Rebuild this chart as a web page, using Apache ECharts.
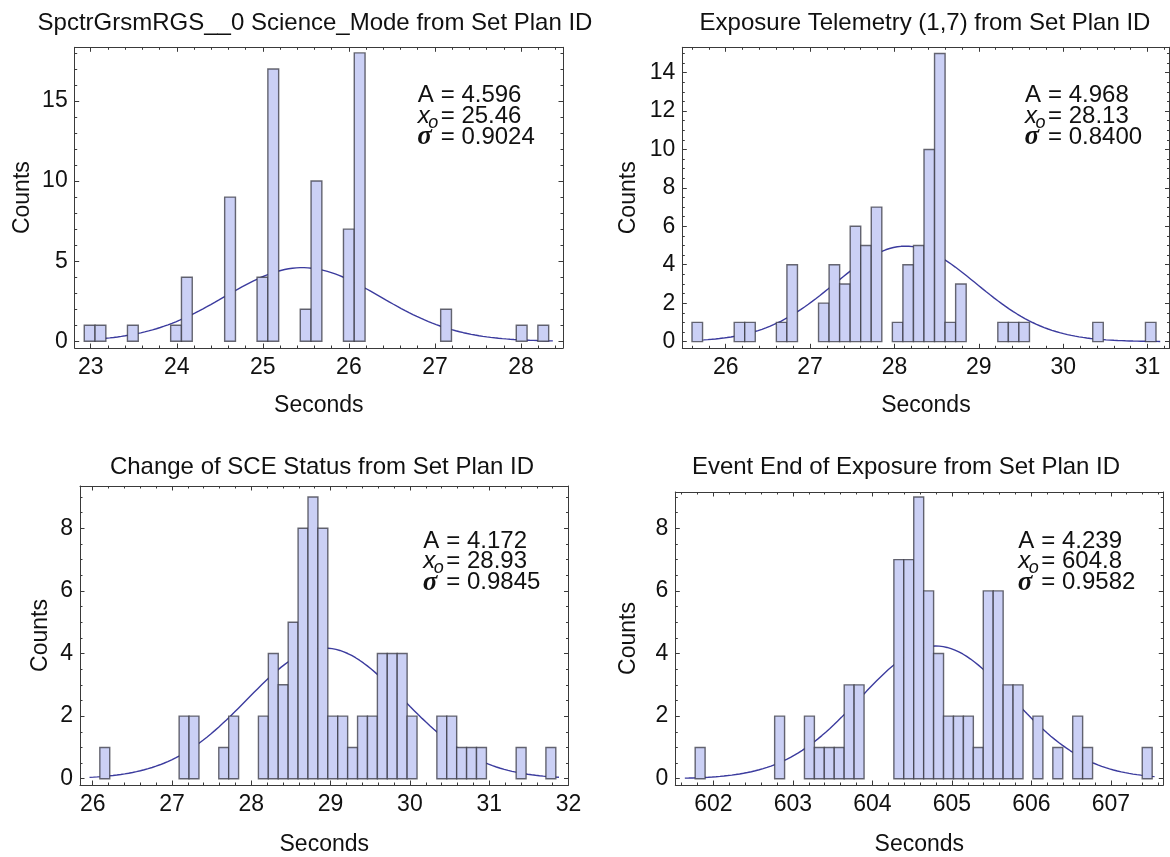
<!DOCTYPE html>
<html>
<head>
<meta charset="utf-8">
<script src="https://cdn.jsdelivr.net/npm/echarts@6/dist/echarts.min.js"></script>
<style>
  html, body { margin: 0; padding: 0; background: #fff; }
  #chart { width: 1170px; height: 857px; }
</style>
</head>
<body>
<div id="chart"></div>
<script>
// ---------- data ----------
const titles = [
  'SpctrGrsmRGS__0 Science_Mode from Set Plan ID',
  'Exposure Telemetry (1,7) from Set Plan ID',
  'Change of SCE Status from Set Plan ID',
  'Event End of Exposure from Set Plan ID'
];

// counts per histogram bin, bins start at binStart and are binWidth seconds wide
const counts1 = [1,1,0,0,1,0,0,0,1,4, 0,0,0,9,0,0,4,17,0,0, 2,10,0,0,7,18,0,0,0,0, 0,0,0,2,0,0,0,0,0,0, 1,0,1];
const counts2 = [1,0,0,0,1,1,0,0,1,4, 0,0,2,4,3,6,5,7,0,1, 4,5,10,15,1,3,0,0,0,1, 1,1,0,0,0,0,0,0,1,0, 0,0,0,1];
const counts3 = [1,0,0,0,0,0,0,0,2,2, 0,0,1,2,0,0,2,4,3,5, 8,9,8,2,2,1,2,2,4,4, 4,2,0,0,2,2,1,1,1,0, 0,0,1,0,0,1];
const counts4 = [1,0,0,0,0,0,0,0,2,0, 0,2,1,1,1,3,3,0,0,0, 7,7,9,6,4,2,2,2,1,6, 6,3,3,0,2,0,1,0,2,1, 0,0,0,0,0,1];
const binStart = [22.925, 25.6, 26.09, 601.77];
const binWidth = [0.1255, 0.125, 0.125, 0.125];

// Gaussian fit parameters and their printed forms
const fitA = [4.596, 4.968, 4.172, 4.239];
const fitX0 = [25.46, 28.13, 28.93, 604.8];
const fitSigma = [0.9024, 0.8400, 0.9845, 0.9582];
const fitAText = ['4.596', '4.968', '4.172', '4.239'];
const fitX0Text = ['25.46', '28.13', '28.93', '604.8'];
const fitSigmaText = ['0.9024', '0.8400', '0.9845', '0.9582'];
const fitRange = [[22.95, 28.37], [25.65, 31.15], [25.96, 31.88], [601.64, 607.55]];

// tick labels
const xTicks1 = [23, 24, 25, 26, 27, 28];
const xTicks2 = [26, 27, 28, 29, 30, 31];
const xTicks3 = [26, 27, 28, 29, 30, 31, 32];
const xTicks4 = [602, 603, 604, 605, 606, 607];
const yTicks1 = [0, 5, 10, 15];
const yTicks2 = [0, 2, 4, 6, 8, 10, 12, 14];
const yTicks3 = [0, 2, 4, 6, 8];
const yTicks4 = [0, 2, 4, 6, 8];

const xLabel = 'Seconds';
const yLabel = 'Counts';

// ---------- layout ----------
const countsAll = [counts1, counts2, counts3, counts4];
const xTicksAll = [xTicks1, xTicks2, xTicks3, xTicks4];
const yTicksAll = [yTicks1, yTicks2, yTicks3, yTicks4];

const panels = [
  { left: 74.7, top: 47.3, width: 488.3, height: 300.7, xMin: 22.814, xMax: 28.488, yMin: -0.42, yMax: 18.35,
    xMinor: 0.2, yMinor: 1, titleX: 315, titleY: 23, noteX: 417.7, noteY: 95.7, nameGapX: 46, nameGapY: 41 },
  { left: 682.3, top: 47.3, width: 487.2, height: 301, xMin: 25.485, xMax: 31.26, yMin: -0.35, yMax: 15.32,
    xMinor: 0.2, yMinor: 0.5, titleX: 925, titleY: 23, noteX: 1025, noteY: 95.7, nameGapX: 46, nameGapY: 42 },
  { left: 80, top: 486, width: 488.5, height: 306.3, xMin: 25.84, xMax: 32.0, yMin: -0.2, yMax: 9.35,
    xMinor: 0.2, yMinor: 0.5, titleX: 322, titleY: 467, noteX: 423.3, noteY: 541, nameGapX: 48, nameGapY: 28 },
  { left: 675.3, top: 492, width: 488, height: 300.3, xMin: 601.52, xMax: 607.66, yMin: -0.2, yMax: 9.16,
    xMinor: 0.2, yMinor: 0.5, titleX: 906, titleY: 467, noteX: 1018.3, noteY: 541, nameGapX: 48, nameGapY: 35 }
];

const FONT = "'Liberation Sans', Arial, Helvetica, sans-serif";
const TEXT_COLOR = '#111';
const FRAME_COLOR = '#3a3a3a';
const BAR_FILL = '#cbd0f5';
const BAR_EDGE = 'rgba(55,55,65,0.75)';
const CURVE_COLOR = '#3b3b9e';

function stepValues(min, max, step) {
  const out = [];
  for (let k = Math.ceil(min / step - 1e-9); k * step <= max + 1e-9; k++) {
    out.push(+(k * step).toFixed(6));
  }
  return out;
}

const grid = [], xAxis = [], yAxis = [], series = [], graphic = [];

panels.forEach((p, i) => {
  grid.push({ left: p.left, top: p.top, width: p.width, height: p.height, containLabel: false });
  const majX = xTicksAll[i];
  const minX = stepValues(p.xMin, p.xMax, p.xMinor);
  const majY = yTicksAll[i];
  const minY = stepValues(p.yMin, p.yMax, p.yMinor).filter(v => v >= 0);

  const baseX = { type: 'value', gridIndex: i, min: p.xMin, max: p.xMax, splitLine: { show: false } };
  const baseY = { type: 'value', gridIndex: i, min: p.yMin, max: p.yMax, splitLine: { show: false } };
  const line = { show: true, onZero: false, lineStyle: { color: FRAME_COLOR, width: 1 } };
  const noLine = { show: false, onZero: false };
  const tick = (vals, len) => ({ show: true, inside: true, length: len, customValues: vals,
    lineStyle: { color: FRAME_COLOR, width: 1 } });
  const noLabel = { show: false };

  // bottom: frame, major ticks, labels, axis name
  xAxis.push(Object.assign({}, baseX, {
    position: 'bottom', axisLine: line, axisTick: tick(majX, 4.5),
    axisLabel: { show: true, customValues: majX, margin: 8, fontFamily: FONT, fontSize: 23, color: TEXT_COLOR },
    name: xLabel, nameLocation: 'middle', nameGap: p.nameGapX,
    nameTextStyle: { fontFamily: FONT, fontSize: 23, color: TEXT_COLOR }
  }));
  xAxis.push(Object.assign({}, baseX, { position: 'bottom', axisLine: noLine, axisTick: tick(minX, 2.5), axisLabel: noLabel }));
  xAxis.push(Object.assign({}, baseX, { position: 'top', axisLine: line, axisTick: tick(majX, 4.5), axisLabel: noLabel }));
  xAxis.push(Object.assign({}, baseX, { position: 'top', axisLine: noLine, axisTick: tick(minX, 2.5), axisLabel: noLabel }));

  yAxis.push(Object.assign({}, baseY, {
    position: 'left', axisLine: line, axisTick: tick(majY, 4.5),
    axisLabel: { show: true, customValues: majY, margin: 7, fontFamily: FONT, fontSize: 23, color: TEXT_COLOR },
    name: yLabel, nameLocation: 'middle', nameGap: p.nameGapY,
    nameTextStyle: { fontFamily: FONT, fontSize: 23, color: TEXT_COLOR }
  }));
  yAxis.push(Object.assign({}, baseY, { position: 'left', axisLine: noLine, axisTick: tick(minY, 2.5), axisLabel: noLabel }));
  yAxis.push(Object.assign({}, baseY, { position: 'right', axisLine: line, axisTick: tick(majY, 4.5), axisLabel: noLabel }));
  yAxis.push(Object.assign({}, baseY, { position: 'right', axisLine: noLine, axisTick: tick(minY, 2.5), axisLabel: noLabel }));

  // fitted Gaussian, drawn beneath the bars
  const A = fitA[i], x0 = fitX0[i], s = fitSigma[i];
  const [c0, c1] = fitRange[i];
  const curve = [];
  const n = 240;
  for (let k = 0; k <= n; k++) {
    const x = c0 + (c1 - c0) * k / n;
    curve.push([x, A * Math.exp(-((x - x0) * (x - x0)) / (2 * s * s))]);
  }
  series.push({
    type: 'line', xAxisIndex: 4 * i, yAxisIndex: 4 * i, data: curve,
    symbol: 'none', showSymbol: false, silent: true, z: 2,
    lineStyle: { color: CURVE_COLOR, width: 1.4 }
  });

  // histogram bars
  const bars = [];
  countsAll[i].forEach((c, k) => {
    if (c > 0) bars.push([binStart[i] + k * binWidth[i], binStart[i] + (k + 1) * binWidth[i], c]);
  });
  series.push({
    type: 'custom', xAxisIndex: 4 * i, yAxisIndex: 4 * i, data: bars, z: 3, silent: true,
    encode: { x: [0, 1], y: 2 },
    renderItem: (params, api) => {
      const tl = api.coord([api.value(0), api.value(2)]);
      const br = api.coord([api.value(1), 0]);
      return {
        type: 'rect',
        shape: { x: tl[0], y: tl[1], width: br[0] - tl[0], height: br[1] - tl[1] },
        style: { fill: BAR_FILL, stroke: BAR_EDGE, lineWidth: 1.4 }
      };
    }
  });

  // panel title
  graphic.push({
    type: 'text', x: p.titleX, y: p.titleY, silent: true,
    style: { text: titles[i], font: `24px ${FONT}`, fill: TEXT_COLOR, textAlign: 'center', textVerticalAlign: 'middle' }
  });

  // fit parameter block
  const nx = p.noteX, ny = p.noteY, pitch = 20.8, eqX = nx + 23;
  const t = (x, y, text, font) => ({ type: 'text', x, y, silent: true,
    style: { text, font, fill: TEXT_COLOR, textAlign: 'left', textVerticalAlign: 'middle' } });
  graphic.push(t(nx, ny, 'A', `24px ${FONT}`));
  graphic.push(t(eqX, ny, '= ' + fitAText[i], `24px ${FONT}`));
  graphic.push(t(nx, ny + pitch, 'x', `italic 24px ${FONT}`));
  graphic.push(t(nx + 10.5, ny + pitch + 6.5, 'o', `italic 18px ${FONT}`));
  graphic.push(t(eqX, ny + pitch, '= ' + fitX0Text[i], `24px ${FONT}`));
  graphic.push(t(nx - 0.5, ny + 2 * pitch, 'σ', `italic bold 27px 'Liberation Serif', 'DejaVu Serif', serif`));
  graphic.push(t(eqX, ny + 2 * pitch, '= ' + fitSigmaText[i], `24px ${FONT}`));
});

const chart = echarts.init(document.getElementById('chart'), null, { renderer: 'canvas' });
chart.setOption({
  animation: false,
  backgroundColor: '#fff',
  grid, xAxis, yAxis, series, graphic
});
</script>
</body>
</html>
